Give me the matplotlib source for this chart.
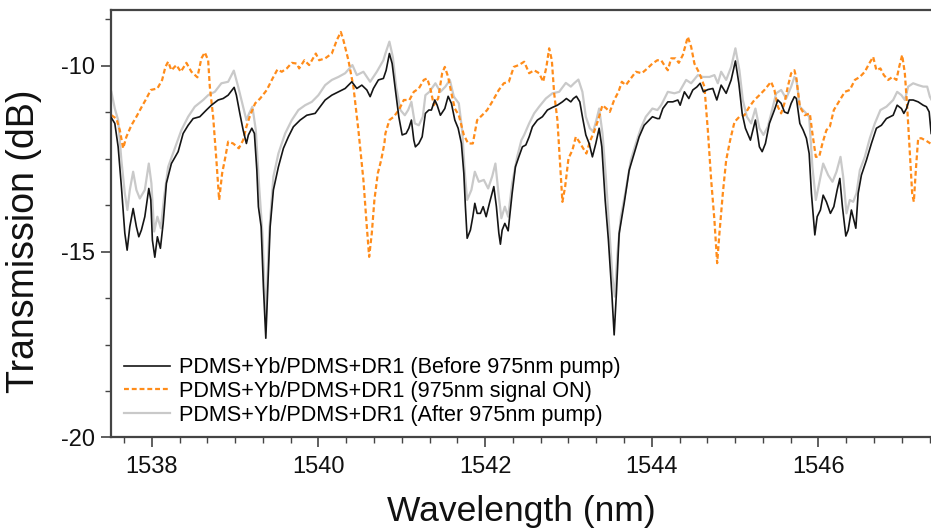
import matplotlib
matplotlib.use("Agg")
import matplotlib.pyplot as plt
from matplotlib import font_manager
from matplotlib.ticker import MultipleLocator, AutoMinorLocator

# Before 975 nm pump (black)
wl_before = [1537.515, 1537.556, 1537.596, 1537.635, 1537.676, 1537.704, 1537.736, 1537.776, 1537.815, 1537.844,
             1537.875, 1537.916, 1537.964, 1537.988, 1538.007, 1538.036, 1538.067, 1538.103, 1538.136, 1538.175,
             1538.235, 1538.316, 1538.376, 1538.436, 1538.496, 1538.576, 1538.655, 1538.715, 1538.796, 1538.856,
             1538.916, 1538.988, 1539.015, 1539.056, 1539.096, 1539.135, 1539.159, 1539.2, 1539.231, 1539.26,
             1539.279, 1539.312, 1539.339, 1539.368, 1539.392, 1539.42, 1539.459, 1539.519, 1539.579, 1539.639,
             1539.699, 1539.78, 1539.86, 1539.96, 1540.02, 1540.08, 1540.16, 1540.239, 1540.32, 1540.40,
             1540.46, 1540.52, 1540.58, 1540.62, 1540.659, 1540.719, 1540.779, 1540.812, 1540.851, 1540.884,
             1540.923, 1540.964, 1541.004, 1541.052, 1541.084, 1541.115, 1541.144, 1541.163, 1541.204, 1541.244,
             1541.283, 1541.324, 1541.355, 1541.396, 1541.424, 1541.463, 1541.516, 1541.556, 1541.595, 1541.636,
             1541.676, 1541.715, 1541.744, 1541.763, 1541.784, 1541.823, 1541.852, 1541.876, 1541.904, 1541.943,
             1541.976, 1542.012, 1542.051, 1542.104, 1542.135, 1542.164, 1542.183, 1542.204, 1542.236, 1542.276,
             1542.324, 1542.363, 1542.404, 1542.447, 1542.488, 1542.528, 1542.567, 1542.627, 1542.687, 1542.747,
             1542.807, 1542.867, 1542.927, 1542.975, 1543.028, 1543.059, 1543.095, 1543.136, 1543.167, 1543.208,
             1543.248, 1543.287, 1543.328, 1543.368, 1543.4, 1543.44, 1543.479, 1543.52, 1543.548, 1543.575,
             1543.608, 1543.668, 1543.728, 1543.788, 1543.848, 1543.908, 1543.968, 1544.007, 1544.067, 1544.091,
             1544.132, 1544.192, 1544.252, 1544.312, 1544.34, 1544.391, 1544.444, 1544.492, 1544.54, 1544.58,
             1544.619, 1544.672, 1544.732, 1544.78, 1544.832, 1544.892, 1544.952, 1545.003, 1545.044, 1545.084,
             1545.123, 1545.183, 1545.243, 1545.291, 1545.324, 1545.363, 1545.411, 1545.471, 1545.512, 1545.552,
             1545.591, 1545.632, 1545.672, 1545.711, 1545.735, 1545.776, 1545.816, 1545.855, 1545.888, 1545.915,
             1545.956, 1545.984, 1546.023, 1546.056, 1546.095, 1546.143, 1546.184, 1546.224, 1546.256, 1546.287,
             1546.328, 1546.356, 1546.395, 1546.424, 1546.448, 1546.476, 1546.515, 1546.575, 1546.635, 1546.695,
             1546.755, 1546.815, 1546.896, 1546.944, 1546.995, 1547.024, 1547.056, 1547.088, 1547.136, 1547.196,
             1547.256, 1547.295, 1547.328, 1547.352]
tr_before = [-11.40, -11.55, -12.18, -13.25, -14.50, -14.96, -14.33, -13.84, -14.33, -14.60,
             -14.42, -14.06, -13.30, -13.61, -14.69, -15.15, -14.60, -14.91, -14.24, -13.16,
             -12.63, -12.31, -11.82, -11.60, -11.42, -11.37, -11.19, -11.06, -10.92, -10.88,
             -10.79, -10.58, -10.79, -11.28, -11.73, -12.09, -11.86, -11.68, -11.82, -12.80,
             -13.79, -14.33, -15.94, -17.33, -15.94, -14.33, -13.34, -12.72, -12.22, -11.91,
             -11.64, -11.46, -11.33, -11.28, -11.10, -10.92, -10.79, -10.70, -10.61, -10.43,
             -10.61, -10.52, -10.65, -10.83, -10.61, -10.38, -10.34, -10.12, -9.67, -9.94,
             -10.65, -11.37, -11.86, -11.82, -11.68, -11.46, -12.00, -12.18, -12.09, -11.91,
             -11.28, -11.19, -11.19, -10.92, -11.06, -11.33, -11.15, -10.82, -11.01, -11.46,
             -11.68, -12.09, -12.89, -13.79, -14.64, -14.42, -14.06, -13.70, -13.97, -13.97,
             -13.79, -14.06, -13.70, -13.25, -13.79, -14.50, -14.80, -14.42, -14.24, -14.44,
             -13.43, -12.72, -12.45, -12.18, -12.13, -11.91, -11.64, -11.46, -11.37, -11.19,
             -11.12, -11.06, -10.97, -10.88, -10.97, -10.88, -10.82, -10.97, -11.37, -11.86,
             -12.09, -12.45, -12.09, -11.68, -12.18, -13.61, -14.69, -16.12, -17.24, -16.12,
             -14.51, -13.70, -12.81, -12.36, -11.91, -11.60, -11.46, -11.37, -11.42, -11.42,
             -11.15, -10.97, -10.97, -10.92, -11.06, -10.70, -10.88, -10.65, -10.57, -10.47,
             -10.70, -10.64, -10.61, -10.92, -10.52, -10.74, -10.38, -9.87, -10.47, -11.28,
             -11.68, -12.00, -11.46, -12.18, -12.31, -12.09, -11.55, -11.19, -10.92, -11.01,
             -11.24, -11.28, -11.01, -10.83, -10.88, -11.55, -11.73, -11.95, -12.36, -13.43,
             -14.55, -14.06, -13.88, -13.48, -13.66, -13.97, -13.79, -13.34, -13.03, -13.79,
             -14.58, -14.42, -13.88, -14.15, -14.37, -13.43, -12.94, -12.54, -12.09, -11.68,
             -11.60, -11.42, -11.33, -11.06, -11.15, -11.28, -11.15, -10.92, -10.92, -10.97,
             -11.06, -11.10, -11.24, -11.82]

# 975 nm signal ON (orange dashed)
wl_on = [1537.515, 1537.575, 1537.616, 1537.656, 1537.695, 1537.755, 1537.815, 1537.875, 1537.935, 1537.988,
         1538.067, 1538.124, 1538.163, 1538.196, 1538.235, 1538.295, 1538.348, 1538.415, 1538.475, 1538.547,
         1538.595, 1538.636, 1538.676, 1538.696, 1538.736, 1538.775, 1538.808, 1538.844, 1538.883, 1538.916,
         1538.976, 1539.044, 1539.096, 1539.135, 1539.18, 1539.24, 1539.3, 1539.38, 1539.44, 1539.507,
         1539.56, 1539.62, 1539.68, 1539.74, 1539.768, 1539.831, 1539.888, 1539.968, 1540.008, 1540.08,
         1540.16, 1540.22, 1540.268, 1540.299, 1540.359, 1540.419, 1540.479, 1540.539, 1540.58, 1540.608,
         1540.64, 1540.671, 1540.712, 1540.752, 1540.791, 1540.803, 1540.851, 1540.904, 1540.964, 1541.024,
         1541.091, 1541.144, 1541.204, 1541.264, 1541.304, 1541.343, 1541.384, 1541.436, 1541.484, 1541.516,
         1541.556, 1541.595, 1541.636, 1541.684, 1541.744, 1541.796, 1541.852, 1541.904, 1541.964, 1542.024,
         1542.084, 1542.164, 1542.224, 1542.284, 1542.344, 1542.404, 1542.468, 1542.528, 1542.588, 1542.648,
         1542.696, 1542.735, 1542.768, 1542.80, 1542.828, 1542.867, 1542.896, 1542.927, 1542.96, 1543.0,
         1543.047, 1543.088, 1543.128, 1543.176, 1543.215, 1543.256, 1543.308, 1543.356, 1543.407, 1543.455,
         1543.496, 1543.548, 1543.6, 1543.64, 1543.688, 1543.748, 1543.808, 1543.88, 1543.947, 1544.007,
         1544.067, 1544.112, 1544.163, 1544.192, 1544.232, 1544.284, 1544.324, 1544.372, 1544.432, 1544.472,
         1544.511, 1544.571, 1544.631, 1544.672, 1544.712, 1544.751, 1544.784, 1544.811, 1544.852, 1544.892,
         1544.94, 1544.992, 1545.051, 1545.111, 1545.171, 1545.231, 1545.291, 1545.351, 1545.431, 1545.471,
         1545.512, 1545.552, 1545.591, 1545.632, 1545.672, 1545.711, 1545.735, 1545.776, 1545.836, 1545.896,
         1545.927, 1545.968, 1546.008, 1546.047, 1546.095, 1546.136, 1546.184, 1546.256, 1546.316, 1546.376,
         1546.436, 1546.496, 1546.556, 1546.608, 1546.656, 1546.695, 1546.743, 1546.784, 1546.836, 1546.887,
         1546.935, 1546.968, 1547.004, 1547.036, 1547.064, 1547.096, 1547.124, 1547.144, 1547.168, 1547.196,
         1547.235, 1547.295, 1547.343]
tr_on = [-11.33, -11.42, -11.73, -12.22, -11.91, -11.60, -11.37, -11.12, -10.88, -10.65,
         -10.61, -10.38, -10.03, -9.89, -10.12, -9.98, -10.16, -9.92, -10.16, -10.31,
         -9.80, -9.64, -9.85, -10.56, -11.37, -12.54, -13.61, -12.89, -12.45, -12.04,
         -12.09, -12.22, -12.00, -11.64, -11.33, -11.01, -10.88, -10.65, -10.38, -10.10,
         -10.16, -10.07, -9.92, -9.94, -10.07, -9.85, -9.98, -9.67, -9.85, -9.80,
         -9.67, -9.31, -9.09, -9.31, -9.85, -10.56, -11.73, -13.07, -14.33, -15.14,
         -14.50, -13.61, -12.89, -12.54, -12.09, -11.82, -11.46, -11.37, -11.19, -10.92,
         -10.92, -10.70, -10.61, -10.38, -10.34, -10.61, -11.06, -10.88, -10.20, -10.03,
         -10.30, -10.74, -11.15, -11.33, -11.86, -12.09, -12.09, -11.46, -11.33, -11.19,
         -10.97, -10.65, -10.47, -10.43, -10.03, -9.98, -9.89, -10.20, -10.12, -10.20,
         -10.43, -10.03, -9.53, -9.85, -10.74, -11.46, -12.54, -13.66, -13.25, -12.49,
         -12.27, -11.91, -12.04, -12.22, -12.36, -12.04, -11.77, -11.46, -11.06, -11.15,
         -11.24, -10.92, -10.70, -10.43, -10.52, -10.34, -10.16, -10.20, -10.07, -9.94,
         -9.85, -9.85, -10.03, -10.12, -9.80, -9.80, -9.92, -9.71, -9.22, -9.49,
         -9.94, -10.20, -10.56, -11.73, -13.07, -14.15, -15.31, -14.51, -13.43, -12.54,
         -12.00, -11.51, -11.37, -11.33, -11.10, -10.92, -10.79, -10.65, -10.43, -10.65,
         -11.10, -11.28, -11.01, -10.56, -10.20, -10.12, -10.34, -11.10, -11.33, -11.28,
         -11.82, -12.45, -12.45, -12.09, -11.73, -11.64, -11.19, -10.92, -10.70, -10.65,
         -10.38, -10.30, -10.16, -9.94, -9.76, -10.12, -10.07, -10.25, -10.38, -10.30,
         -10.38, -10.03, -9.71, -10.20, -11.10, -12.36, -13.43, -13.66, -12.81, -11.95,
         -11.95, -12.02, -12.09]

# After 975 nm pump (light grey)
wl_after = [1537.515, 1537.556, 1537.596, 1537.635, 1537.676, 1537.707, 1537.736, 1537.776, 1537.815, 1537.856,
            1537.916, 1537.964, 1537.995, 1538.028, 1538.067, 1538.108, 1538.148, 1538.196, 1538.276, 1538.355,
            1538.436, 1538.516, 1538.616, 1538.676, 1538.756, 1538.835, 1538.916, 1538.984, 1539.036, 1539.096,
            1539.135, 1539.168, 1539.207, 1539.248, 1539.288, 1539.327, 1539.368, 1539.408, 1539.459, 1539.519,
            1539.6, 1539.68, 1539.759, 1539.84, 1539.92, 1539.999, 1540.08, 1540.16, 1540.239, 1540.32,
            1540.407, 1540.46, 1540.539, 1540.62, 1540.7, 1540.779, 1540.803, 1540.851, 1540.892, 1540.932,
            1540.983, 1541.036, 1541.076, 1541.115, 1541.156, 1541.204, 1541.252, 1541.283, 1541.331, 1541.403,
            1541.463, 1541.523, 1541.576, 1541.624, 1541.684, 1541.724, 1541.756, 1541.784, 1541.835, 1541.876,
            1541.924, 1541.984, 1542.036, 1542.084, 1542.123, 1542.164, 1542.195, 1542.236, 1542.276, 1542.324,
            1542.384, 1542.435, 1542.468, 1542.528, 1542.588, 1542.648, 1542.728, 1542.807, 1542.888, 1542.968,
            1543.028, 1543.068, 1543.119, 1543.167, 1543.208, 1543.256, 1543.296, 1543.335, 1543.368, 1543.408,
            1543.448, 1543.488, 1543.527, 1543.556, 1543.587, 1543.628, 1543.688, 1543.748, 1543.808, 1543.868,
            1543.928, 1544.007, 1544.067, 1544.112, 1544.192, 1544.271, 1544.331, 1544.412, 1544.472, 1544.552,
            1544.612, 1544.691, 1544.751, 1544.792, 1544.832, 1544.892, 1544.952, 1545.003, 1545.051, 1545.092,
            1545.14, 1545.192, 1545.243, 1545.291, 1545.339, 1545.392, 1545.443, 1545.492, 1545.552, 1545.612,
            1545.672, 1545.711, 1545.735, 1545.776, 1545.836, 1545.888, 1545.927, 1545.968, 1546.008, 1546.056,
            1546.116, 1546.168, 1546.216, 1546.264, 1546.296, 1546.336, 1546.376, 1546.416, 1546.456, 1546.496,
            1546.556, 1546.616, 1546.676, 1546.743, 1546.815, 1546.896, 1546.944, 1546.995, 1547.036, 1547.076,
            1547.136, 1547.196, 1547.256, 1547.304, 1547.336, 1547.352]
tr_after = [-10.70, -11.15, -11.46, -12.54, -13.43, -13.88, -13.34, -12.85, -13.34, -13.57,
            -13.34, -12.63, -13.16, -14.46, -14.06, -14.37, -13.52, -12.72, -12.22, -11.73,
            -11.37, -11.10, -10.92, -10.79, -10.70, -10.47, -10.43, -10.13, -10.56, -11.10,
            -11.46, -11.28, -11.10, -11.73, -13.25, -14.50, -16.84, -14.50, -12.98, -12.36,
            -11.82, -11.46, -11.19, -11.06, -10.97, -10.79, -10.52, -10.38, -10.30, -10.20,
            -9.98, -10.25, -10.16, -10.43, -10.16, -9.85, -9.67, -9.35, -9.76, -10.56,
            -11.19, -11.33, -11.19, -10.97, -11.55, -11.60, -11.37, -10.79, -10.70, -10.47,
            -10.70, -10.56, -10.38, -10.83, -11.01, -11.73, -12.89, -13.61, -13.34, -12.85,
            -13.12, -13.07, -13.30, -12.98, -12.63, -13.52, -14.10, -13.79, -14.06, -13.16,
            -12.45, -12.00, -11.86, -11.55, -11.28, -11.10, -10.88, -10.74, -10.70, -10.46,
            -10.56, -10.47, -10.37, -10.70, -11.37, -11.68, -11.77, -11.46, -11.15, -11.82,
            -12.98, -14.33, -15.67, -16.21, -15.05, -14.06, -13.34, -12.54, -12.09, -11.68,
            -11.37, -11.15, -11.19, -11.06, -10.70, -10.74, -10.70, -10.38, -10.47, -10.25,
            -10.30, -10.30, -10.25, -10.47, -10.16, -10.38, -10.03, -9.53, -10.12, -10.92,
            -11.37, -11.55, -11.15, -11.68, -11.86, -11.64, -11.19, -10.74, -10.65, -10.88,
            -10.56, -10.30, -10.38, -11.10, -11.24, -11.37, -12.72, -13.61, -13.16, -12.63,
            -12.94, -13.12, -12.85, -12.45, -12.98, -13.97, -13.61, -13.66, -13.43, -12.81,
            -12.45, -11.95, -11.55, -11.19, -11.10, -10.92, -10.70, -10.79, -10.92, -10.56,
            -10.47, -10.52, -10.56, -10.56, -10.83, -10.90]

labels = [
    "PDMS+Yb/PDMS+DR1 (Before 975nm pump)",
    "PDMS+Yb/PDMS+DR1 (975nm signal ON)",
    "PDMS+Yb/PDMS+DR1 (After 975nm pump)",
]
x_ticks = [1538, 1540, 1542, 1544, 1546]
y_ticks = [-20, -15, -10]


def pick_axis_font():
    # narrow Arial-like face for axis text, if it is around
    try:
        font_manager.findfont("Liberation Sans Narrow", fallback_to_default=False)
        return "Liberation Sans Narrow", 19, 29, 29
    except ValueError:
        return "Liberation Sans", 17, 25.5, 27


axis_font, tick_size, xlabel_size, ylabel_size = pick_axis_font()
plt.rcParams["font.family"] = ["Liberation Sans", "DejaVu Sans"]
plt.rcParams["axes.unicode_minus"] = False

fig = plt.figure(figsize=(9.31, 5.29), dpi=100)
ax = fig.add_axes([0.1192, 0.173, 0.8808, 0.808])

l_before, = ax.plot(wl_before, tr_before, color="#151515", lw=1.2, zorder=3)
l_on, = ax.plot(wl_on, tr_on, color="#ff8c1a", lw=1.6, ls=(0, (2.2, 1.3)), zorder=2)
l_after, = ax.plot(wl_after, tr_after, color="#c9c9c9", lw=1.6, zorder=1)

ax.set_xlim(1537.51, 1547.35)
ax.set_ylim(-20, -8.5)
ax.xaxis.set_major_locator(MultipleLocator(2))
ax.xaxis.set_minor_locator(AutoMinorLocator(6))
ax.yaxis.set_major_locator(MultipleLocator(5))
ax.yaxis.set_minor_locator(AutoMinorLocator(4))
ax.set_xticks(x_ticks)
ax.set_yticks(y_ticks)

for side in ["left", "bottom", "top"]:
    ax.spines[side].set_color("#444444")
    ax.spines[side].set_linewidth(1.6)
ax.spines["right"].set_visible(False)

ax.tick_params(which="major", direction="out", length=7.5, width=1.2, color="#444444",
               labelsize=tick_size, labelcolor="#111111", pad=4)
ax.tick_params(axis="x", which="major", pad=6)
ax.tick_params(which="minor", direction="out", length=4, width=1.0, color="#444444")
ax.tick_params(top=False, right=False)
for t in ax.get_xticklabels() + ax.get_yticklabels():
    t.set_family([axis_font, "DejaVu Sans"])

ax.set_xlabel("Wavelength (nm)", fontsize=xlabel_size, family=[axis_font, "DejaVu Sans"],
              color="#111111", labelpad=12)
ax.set_ylabel("Transmission (dB)", fontsize=ylabel_size, family=[axis_font, "DejaVu Sans"],
              color="#111111")
ax.yaxis.set_label_coords(-0.084, 0.46)

ax.legend([l_before, l_on, l_after], labels, loc="lower left", bbox_to_anchor=(0.016, 0.028),
          frameon=False, fontsize=15.6, handlelength=2.1, handletextpad=0.45,
          labelspacing=0.12, borderpad=0, borderaxespad=0)

fig.savefig("out.png", dpi=100)
